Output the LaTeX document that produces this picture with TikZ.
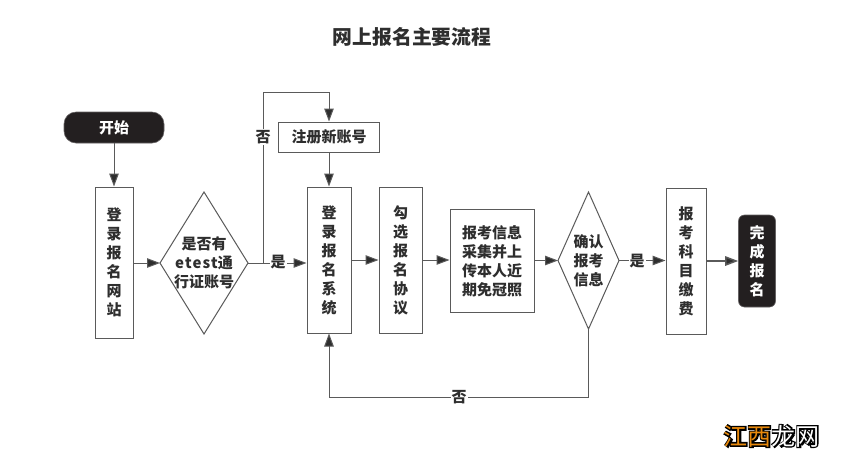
\documentclass[tikz,border=0pt]{standalone}
\usepackage{fontspec}
\usetikzlibrary{arrows.meta,shapes.geometric}
\newfontfamily\cjk{Noto Sans CJK SC}
\definecolor{ink}{HTML}{2E2E2E}
\definecolor{edge}{HTML}{5A5A5A}
\definecolor{panel}{HTML}{231F20}
\definecolor{amber}{HTML}{E8890C}
\tikzset{
  base/.style={font=\cjk\bfseries\fontsize{15}{19}\selectfont,text=ink,align=center,inner sep=0pt},
  box/.style={base,draw=edge,line width=1pt,fill=white},
  terminal/.style={base,fill=panel,draw=panel!70!white,line width=.6pt,text=white,rounded corners=6pt},
  flow/.style={draw=edge,line width=1pt,-{Triangle[length=13pt,width=9.5pt,fill=ink]}},
  plain/.style={draw=edge,line width=1pt},
  tag/.style={base,fill=white,inner sep=1pt},
}
\begin{document}
\begin{tikzpicture}[x=1pt,y=-1pt]
\useasboundingbox[fill=white] (0,0) rectangle (856,467);

\node[base,font=\cjk\bfseries\fontsize{19.8}{24}\selectfont] (title) at (412,37) {网上报名主要流程};

% Process steps, left to right
\node[terminal,minimum width=100pt,minimum height=31pt,rounded corners=12pt] (start) at (114,127.5) {开始};
\node[box,minimum width=38pt,minimum height=151pt] (site) at (114,262.5) {登\\录\\报\\名\\网\\站};
\node[base] (d1text) at (204,263) {是否有\\{\addfontfeature{LetterSpace=8}etest}通\\行证账号};
\draw[plain] (160,263) coordinate (d1w) -- (204,192) coordinate (d1n) -- (248,263) coordinate (d1e) -- (204,334) coordinate (d1s) -- cycle;
\node[box,minimum width=101pt,minimum height=30pt] (reg) at (329,137) {注册新账号};
\node[box,minimum width=44pt,minimum height=146pt] (login) at (329,260) {登\\录\\报\\名\\系\\统};
\node[box,minimum width=43pt,minimum height=146pt] (agree) at (400.5,260) {勾\\选\\报\\名\\协\\议};
\node[box,minimum width=84pt,minimum height=103pt] (info) at (492,261) {报考信息\\采集并上\\传本人近\\期免冠照};
\node[base] (d2text) at (588.5,260.5) {确认\\报考\\信息};
\draw[plain] (558,260.5) coordinate (d2w) -- (588.5,192) coordinate (d2n) -- (619,260.5) coordinate (d2e) -- (588.5,329) coordinate (d2s) -- cycle;
\node[box,minimum width=40pt,minimum height=146pt] (pay) at (686,261) {报\\考\\科\\目\\缴\\费};
\node[terminal,minimum width=37pt,minimum height=92pt] (done) at (757,261) {完\\成\\报\\名};

% Routing points of the two loops
\coordinate (branch) at (263,263);
\coordinate (upper) at (263,92);
\coordinate (lower) at (588.5,397);

% Connectors
\draw[flow] (start.south) -- (site.north);
\draw[flow] (site.east |- d1w) -- (d1w);
\draw[flow] (d1e) -- (d1e -| login.west);
\draw[flow] (branch) -- (upper) -- (upper -| reg.north) -- (reg.north);
\draw[flow] (reg.south) -- (login.north);
\draw[flow] (login.east) -- (agree.west);
\draw[flow] (agree.east) -- (info.west |- agree.east);
\draw[flow] (info.east |- d2w) -- (d2w);
\draw[flow] (d2e) -- (d2e -| pay.west);
\draw[flow,line width=1.5pt] (pay.east) -- (done.west);
\draw[flow] (d2s) -- (lower) -- (lower -| login.south) -- (login.south);

% Branch labels
\node[tag] (no1) at (263,137) {否};
\node[tag] (yes1) at (278,262) {是};
\node[tag] (yes2) at (637,261) {是};
\node[tag] (no2) at (459,397) {否};

% Site mark in the lower right corner
\node[base,font=\cjk\bfseries\fontsize{24}{24}\selectfont,text=black] (markhalo) at (771.5,436)
  {\addfontfeature{FakeBold=6}江西龙网};
\node[base,font=\cjk\fontsize{24}{24}\selectfont] (mark) at (771.5,436)
  {\textcolor{amber}{江西}\textcolor{white}{龙网}};
\end{tikzpicture}
\end{document}
